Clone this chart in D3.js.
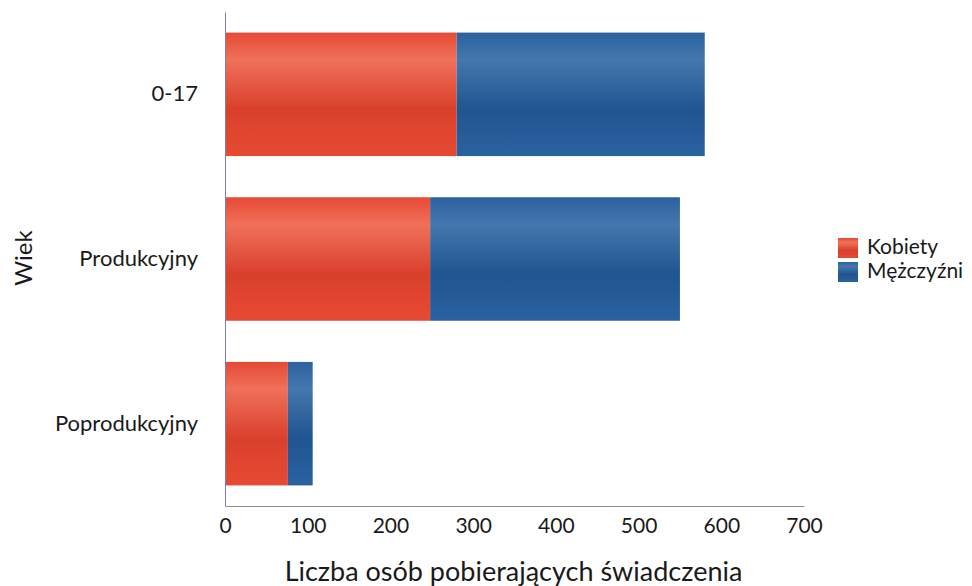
<!DOCTYPE html>
<html>
<head>
<meta charset="utf-8">
<script src="https://cdn.jsdelivr.net/npm/d3@7"></script>
<style>
  body { margin: 0; background: #fff; }
  text { font-family: Lato, "Open Sans", sans-serif; fill: #1a1a1a; }
</style>
</head>
<body>
<svg id="chart"></svg>
<script>
// chart data
var categories = ["0-17", "Produkcyjny", "Poprodukcyjny"];
var seriesNames = ["Kobiety", "Mężczyźni"];
var kobiety = [280, 248, 76];
var mezczyzni = [300, 302, 30];
var xTicks = [0, 100, 200, 300, 400, 500, 600, 700];

var width = 972;
var height = 586;
var plotLeft = 225, plotRight = 804, plotTop = 12, plotBottom = 506;

var svg = d3.select("#chart")
    .attr("width", width)
    .attr("height", height);

// gradients for the shiny bars
var colors = {
  "Kobiety": ["#f0705a", "#e64a33", "#d9402c"],
  "Mężczyźni": ["#4577ad", "#2a62a0", "#1f5590"]
};
var defs = svg.append("defs");
seriesNames.forEach(function(name, i) {
  var g = defs.append("linearGradient")
      .attr("id", "grad" + i)
      .attr("x1", 0).attr("y1", 0).attr("x2", 0).attr("y2", 1);
  var c = colors[name];
  g.append("stop").attr("offset", "0%").attr("stop-color", c[1]);
  g.append("stop").attr("offset", "22%").attr("stop-color", c[0]);
  g.append("stop").attr("offset", "62%").attr("stop-color", c[2]);
  g.append("stop").attr("offset", "100%").attr("stop-color", c[1]);
});

var rows = categories.map(function(c, i) {
  return { cat: c, "Kobiety": kobiety[i], "Mężczyźni": mezczyzni[i] };
});
var stacked = d3.stack().keys(seriesNames)(rows);

var xScale = d3.scaleLinear()
    .domain([0, 700])
    .range([plotLeft, plotRight]);

var yScale = d3.scaleBand()
    .domain(categories)
    .range([plotTop, plotBottom])
    .paddingInner(0.25)
    .paddingOuter(0.125);

// bars
svg.selectAll("g.series")
  .data(stacked)
  .enter()
  .append("g")
    .attr("class", "series")
    .attr("fill", function(d, i) { return "url(#grad" + i + ")"; })
  .selectAll("rect")
  .data(function(d) { return d; })
  .enter()
  .append("rect")
    .attr("x", function(d) { return xScale(d[0]); })
    .attr("y", function(d) { return yScale(d.data.cat); })
    .attr("width", function(d) { return xScale(d[1]) - xScale(d[0]); })
    .attr("height", yScale.bandwidth());

// x axis
var xAxis = d3.axisBottom(xScale)
    .tickValues(xTicks)
    .tickSize(0)
    .tickPadding(12);
var gx = svg.append("g")
    .attr("transform", "translate(0," + plotBottom + ")")
    .call(xAxis);
gx.select(".domain").attr("stroke", "#8a8f99").attr("stroke-width", 1);
gx.selectAll("text").style("font-size", "21px").attr("fill", "#1a1a1a");

// y axis
var yAxis = d3.axisLeft(yScale)
    .tickSize(0)
    .tickPadding(27);
var gy = svg.append("g")
    .attr("transform", "translate(" + plotLeft + ",0)")
    .call(yAxis);
gy.select(".domain").attr("stroke", "#7a7fb0").attr("stroke-width", 1);
gy.selectAll("text").style("font-size", "22px").attr("fill", "#1a1a1a");

// axis titles
svg.append("text")
    .attr("x", (plotLeft + plotRight) / 2 - 1)
    .attr("y", 581)
    .style("text-anchor", "middle")
    .style("font-size", "27px")
    .text("Liczba osób pobierających świadczenia");

svg.append("text")
    .attr("transform", "rotate(-90)")
    .attr("x", -258)
    .attr("y", 32)
    .style("text-anchor", "middle")
    .style("font-size", "24px")
    .text("Wiek");

// legend
var legend = svg.selectAll("g.legend")
  .data(seriesNames)
  .enter()
  .append("g")
    .attr("class", "legend")
    .attr("transform", function(d, i) { return "translate(838," + (238 + i * 24) + ")"; });
legend.append("rect")
    .attr("width", 20)
    .attr("height", 20)
    .attr("fill", function(d, i) { return "url(#grad" + i + ")"; });
legend.append("text")
    .attr("x", 29)
    .attr("y", 16)
    .style("font-size", "21px")
    .text(function(d) { return d; });
</script>
</body>
</html>
